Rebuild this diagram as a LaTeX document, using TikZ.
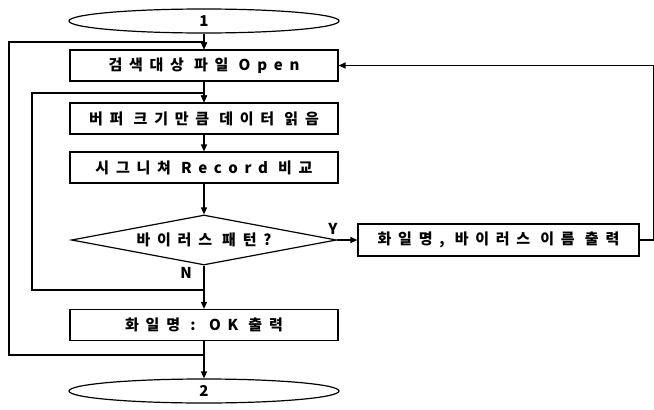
\documentclass[tikz,border=0pt]{standalone}
\usepackage{fontspec}
\setmainfont{Noto Sans CJK KR}
\newfontfamily\kr{Noto Sans CJK KR}[LetterSpace=45]
\usetikzlibrary{shapes.geometric,arrows.meta}
\begin{document}
\begin{tikzpicture}[x=1pt,y=-1pt,
  ln/.style={line width=1.2pt},
  arr/.style={line width=1.2pt,-{Triangle[length=7pt,width=6pt]}},
  txt/.style={font=\kr\bfseries\fontsize{15}{15}\selectfont},
  box/.style={draw,line width=1.2pt,minimum width=268pt,minimum height=31pt,inner sep=0pt,txt},
  term/.style={draw,ellipse,line width=1.2pt,minimum width=270pt,minimum height=24pt,inner sep=0pt,txt},
  dec/.style={draw,diamond,line width=1.2pt,aspect=5.3,minimum width=265pt,minimum height=50pt,inner sep=0pt,txt},
  lab/.style={inner sep=0pt,txt}]
\useasboundingbox (0,0) rectangle (654,410);
\node[term] (e1) at (204,21) {1};
\node[box] (b1) at (204,65.5) {검색대상 파일 Open};
\node[box] (b2) at (204,118.5) {버퍼 크기만큼 데이터 읽음};
\node[box] (b3) at (204,167.5) {시그니쳐 Record 비교};
\node[dec] (d) at (204,240) {바이러스 패턴?};
\node[box,minimum width=281pt,minimum height=32pt] (by) at (498.5,240) {화일명, 바이러스 이름 출력};
\node[box] (bok) at (204,325) {화일명 : OK 출력};
\node[term] (e2) at (204,391) {2};
\node[lab] (ly) at (333,229) {Y};
\node[lab] (lnn) at (186,273) {N};
\coordinate (j1) at (204,290);
\coordinate (l1) at (32,93);
\coordinate (j2) at (204,355);
\coordinate (l2) at (9,42);
\coordinate (r) at (654,0);
\draw[arr] (e1) -- (b1);
\draw[arr] (b1) -- (b2);
\draw[arr] (b2) -- (b3);
\draw[arr] (b3) -- (d);
\draw[arr] (d.east) -- (by.west);
\draw[arr] (d.south) -- (bok.north);
\draw[arr] (bok) -- (e2);
\draw[arr] (j1) -| (l1) -| (b2.north);
\draw[arr] (j2) -| (l2) -| (b1.north);
\draw[arr] (by.east) -- (by.east -| r) |- (b1.east);
\end{tikzpicture}
\end{document}
